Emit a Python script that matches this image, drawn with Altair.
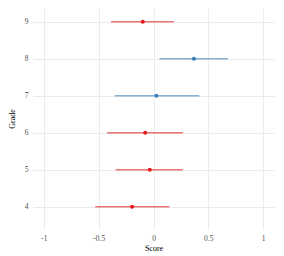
import altair as alt
import pandas as pd

grades = [9, 8, 7, 6, 5, 4]
estimate = [-0.098, 0.369, 0.027, -0.076, -0.034, -0.195]
lower = [-0.387, 0.055, -0.354, -0.424, -0.345, -0.531]
upper = [0.186, 0.680, 0.418, 0.268, 0.268, 0.146]
group = ["A", "B", "B", "A", "A", "A"]

df = pd.DataFrame({"Grade": grades, "Score": estimate, "lo": lower, "hi": upper, "group": group})

FONT = "'Liberation Serif', 'DejaVu Serif', serif"
xscale = alt.Scale(domain=[-1.1, 1.1], nice=False, zero=False)
yscale = alt.Scale(domain=[3.4, 9.373], nice=False, zero=False)
color = alt.Color("group:N", scale=alt.Scale(domain=["A", "B"], range=["#E41A1C", "#377EB8"]), legend=None)

xaxis = alt.Axis(
    title="Score",
    values=[-1, -0.75, -0.5, -0.25, 0, 0.25, 0.5, 0.75, 1],
    labelExpr="datum.value % 0.5 == 0 ? toString(datum.value) : ''",
    labelPadding=5, titlePadding=3,
)
yaxis = alt.Axis(
    title="Grade",
    values=[4, 5, 6, 7, 8, 9], format="d",
    labelPadding=5, titlePadding=8,
)

bars = alt.Chart(df).mark_rule(strokeWidth=1.6, opacity=0.6).encode(
    x=alt.X("lo:Q", scale=xscale, axis=xaxis),
    x2="hi:Q",
    y=alt.Y("Grade:Q", scale=yscale, axis=yaxis),
    color=color,
)
points = alt.Chart(df).mark_circle(size=16, opacity=1).encode(
    x=alt.X("Score:Q", scale=xscale),
    y=alt.Y("Grade:Q", scale=yscale),
    color=color,
)

chart = alt.layer(bars, points).properties(
    width=241, height=221,
    autosize=alt.AutoSizeParams(type="none"),
    padding={"left": 25, "top": 0, "right": 2, "bottom": 27},
).configure(font=FONT).configure_view(stroke=None).configure_axis(
    ticks=False, domain=False, grid=True, gridColor="#ebebeb", gridWidth=1,
    labelFont=FONT, titleFont=FONT,
    labelFontSize=7.5, titleFontSize=8, labelColor="#4d4d4d", titleColor="#000000",
    titleFontWeight="normal",
)

chart.save("out.html", embed_options={"renderer": "svg", "actions": False})
